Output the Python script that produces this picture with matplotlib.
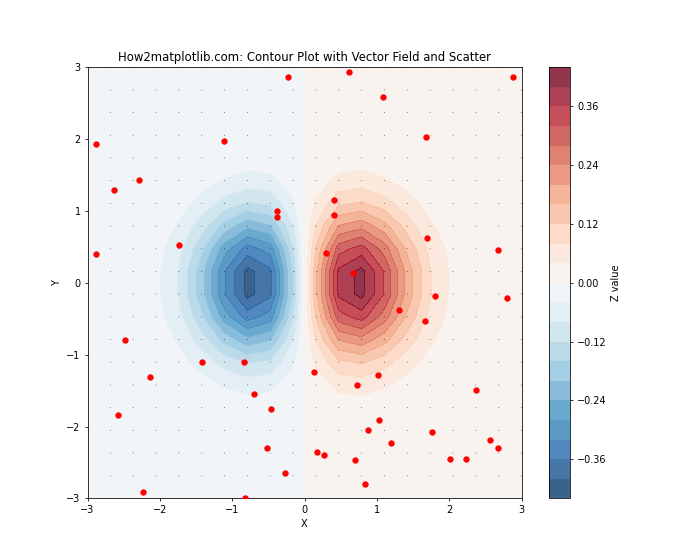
import numpy as np
import matplotlib
matplotlib.use("Agg")
import matplotlib.pyplot as plt

# grid used for the surface and the vector field
grid_n = 20
x_lim = (-3, 3)
y_lim = (-3, 3)
levels = [round(-0.44 + 0.04 * k, 2) for k in range(23)]

# scattered points
pts_x = [-0.225, -2.885, -1.11, -2.29, -2.635, -0.377, -0.377, -1.735, -2.885,
         0.62, 2.88, 1.09, 1.675, 0.413, 0.413, 1.69, 2.67, 0.30, 0.676,
         -2.48, -1.416, -0.834, -2.137, -0.696, -2.58, -0.46, -0.515, -0.266, -2.234, -0.82,
         1.80, 2.80, 1.30, 1.66, 0.136, 1.01, 0.72, 2.37, 1.036, 0.884,
         1.757, 1.19, 2.56, 2.67, 0.177, 0.274, 0.70, 2.006, 2.23, 0.84]
pts_y = [2.87, 1.93, 1.975, 1.43, 1.29, 1.0, 0.91, 0.52, 0.395,
         2.94, 2.87, 2.58, 2.03, 1.15, 0.94, 0.62, 0.45, 0.41, 0.13,
         -0.795, -1.10, -1.10, -1.31, -1.55, -1.84, -1.76, -2.305, -2.64, -2.906, -2.99,
         -0.19, -0.21, -0.375, -0.53, -1.24, -1.28, -1.42, -1.49, -1.91, -2.05,
         -2.07, -2.235, -2.19, -2.305, -2.36, -2.40, -2.46, -2.445, -2.445, -2.795]

x = np.linspace(x_lim[0], x_lim[1], grid_n)
y = np.linspace(y_lim[0], y_lim[1], grid_n)
X, Y = np.meshgrid(x, y)
Z = X * np.exp(-X**2 - Y**2)
V, U = np.gradient(Z)

fig, ax = plt.subplots(figsize=(10, 8))

cf = ax.contourf(X, Y, Z, levels=levels, cmap='RdBu_r', alpha=0.8)
cbar = fig.colorbar(cf, ax=ax)
cbar.set_label('Z value')

# vector field (arrows are tiny, show up as dots)
ax.quiver(X, Y, U, V, scale=60, alpha=0.6, color='black', width=0.0025)

ax.scatter(pts_x, pts_y, c='red', s=30, zorder=5)

ax.set_title('How2matplotlib.com: Contour Plot with Vector Field and Scatter')
ax.set_xlabel('X')
ax.set_ylabel('Y')
ax.set_xlim(x_lim)
ax.set_ylim(y_lim)

plt.savefig('out.png', dpi=70)
